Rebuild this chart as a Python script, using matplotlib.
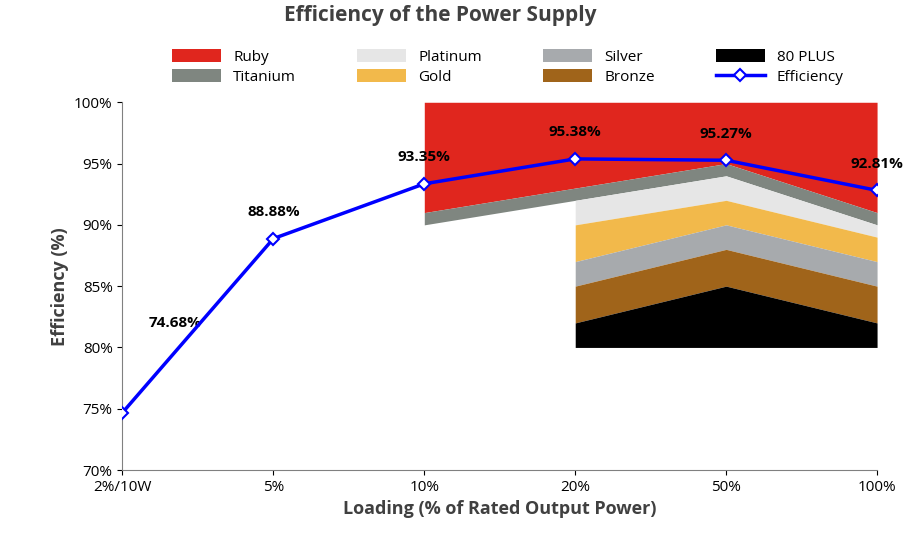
import numpy as np
import matplotlib
matplotlib.use("Agg")
import matplotlib.pyplot as plt

plt.rcParams["font.family"] = ["Open Sans", "DejaVu Sans"]

# ── Data ──────────────────────────────────────────────────────────────────────
loads = ["2%/10W", "5%", "10%", "20%", "50%", "100%"]
efficiency = [74.68, 88.88, 93.35, 95.38, 95.27, 92.81]

# 80 PLUS thresholds at 20%, 50%, 100%
tier_x = [3, 4, 5]
base_80 = [80, 80, 80]
plus_80 = [82, 85, 82]
bronze = [85, 88, 85]
silver = [87, 90, 87]
gold = [90, 92, 89]
platinum = [92, 94, 90]
# Titanium / Ruby also defined at 10%
top_x = [2, 3, 4, 5]
titanium = [90, 92, 94, 90]
ruby = [91, 93, 95, 91]
ceiling = [100, 100, 100, 100]

colors = {
    "Ruby": "#E0261E", "Titanium": "#7F8680", "Platinum": "#E6E6E6",
    "Gold": "#F2B94B", "Silver": "#A7AAAD", "Bronze": "#A0641A",
    "80 PLUS": "#000000",
}

fig = plt.figure(figsize=(9.07, 5.44), dpi=100)
ax = fig.add_axes([0.135, 0.136, 0.832, 0.676])

x = np.arange(len(loads))
h = {}
h["Ruby"] = ax.fill_between(top_x, ruby, ceiling, color=colors["Ruby"], lw=0)
h["Titanium"] = ax.fill_between(top_x, titanium, ruby, color=colors["Titanium"], lw=0)
h["Platinum"] = ax.fill_between(tier_x, gold, platinum, color=colors["Platinum"], lw=0)
h["Gold"] = ax.fill_between(tier_x, silver, gold, color=colors["Gold"], lw=0)
h["Silver"] = ax.fill_between(tier_x, bronze, silver, color=colors["Silver"], lw=0)
h["Bronze"] = ax.fill_between(tier_x, plus_80, bronze, color=colors["Bronze"], lw=0)
h["80 PLUS"] = ax.fill_between(tier_x, base_80, plus_80, color=colors["80 PLUS"], lw=0)

line, = ax.plot(x, efficiency, color="#0000FF", lw=2.5, marker="D", ms=6,
                mfc="white", mec="#0000FF", mew=1.5, label="Efficiency", zorder=5)

for i, v in enumerate(efficiency):
    if i == 0:
        ax.text(0.35, 82, f"{v:.2f}%", ha="center", va="center",
                fontsize=11, fontweight="bold")
    else:
        ax.text(i, v + 1.6, f"{v:.2f}%", ha="center", va="bottom",
                fontsize=11, fontweight="bold")

ax.set_xlim(0, 5)
ax.set_ylim(70, 100)
ax.set_xticks(x)
ax.set_xticklabels(loads, fontsize=11)
ax.set_yticks(range(70, 101, 5))
ax.set_yticklabels([f"{t}%" for t in range(70, 101, 5)], fontsize=11)
ax.set_xlabel("Loading (% of Rated Output Power)", fontsize=13, fontweight="bold",
              color="#404040")
ax.set_ylabel("Efficiency (%)", fontsize=13, fontweight="bold", color="#404040")
for s in ["top", "right"]:
    ax.spines[s].set_visible(False)
ax.spines["left"].set_color("#808080")
ax.spines["bottom"].set_color("#808080")

order = ["Ruby", "Titanium", "Platinum", "Gold", "Silver", "Bronze", "80 PLUS"]
handles = [h[k] for k in order] + [line]
labels = order + ["Efficiency"]
fig.legend(handles, labels, ncol=4, loc="upper center", bbox_to_anchor=(0.56, 0.935),
           frameon=False, fontsize=11, handlelength=3.2, handleheight=0.9,
           columnspacing=4, labelspacing=0.3)

fig.suptitle("Efficiency of the Power Supply", fontsize=15, fontweight="bold",
             color="#404040", x=0.485, y=0.99)

fig.savefig("out.png", dpi=100)
